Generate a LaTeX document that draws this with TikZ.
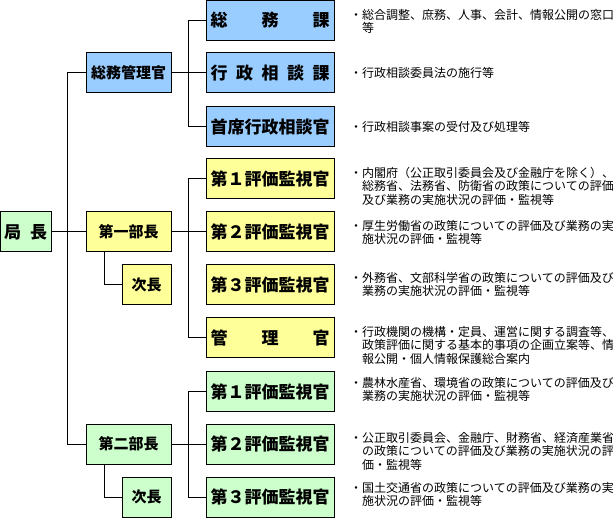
\documentclass[tikz,border=0pt]{standalone}
\usepackage{fontspec}
\usepackage{xcolor}
\newfontfamily\gothic{Noto Sans CJK JP}
\definecolor{aoiro}{HTML}{99CCFF}
\definecolor{kiiro}{HTML}{FFFF99}
\definecolor{midori}{HTML}{CCFFCC}
\newcommand{\sagari}{\hspace*{12pt}}
\newcommand{\kintou}[2][119pt]{\makebox[#1][s]{#2}}

\begin{document}
\begin{tikzpicture}[x=1pt, y=-1pt,
  waku/.style={draw=black, line width=1pt, inner sep=0pt, minimum height=40pt},
  migi/.style={waku, minimum width=128pt, font=\gothic\bfseries\fontsize{17}{20}\selectfont},
  hidari/.style={waku, minimum width=85pt, font=\gothic\bfseries\fontsize{15}{18}\selectfont},
  jicho/.style={waku, minimum width=49pt, font=\gothic\bfseries\fontsize{15}{18}\selectfont},
  sen/.style={black, line width=1pt},
  setsumei/.style={anchor=north west, inner sep=0pt, align=left,
                   font=\gothic\fontsize{12}{13.5}\selectfont}]
\useasboundingbox (0,0) rectangle (613,518);
\clip (0,0) rectangle (613,518);
% 局長
\node[waku, fill=midori, minimum width=50.5pt, font=\gothic\bfseries\fontsize{17}{20}\selectfont] (kyoku) at (25.75,232) {\kintou[43pt]{局\hfill 長}};
% 総務管理官の系統
\node[hidari, fill=aoiro] (somukanri) at (128.5,73) {総務管理官};
\node[migi, fill=aoiro] (somuka) at (270,20.5) {\kintou{総\hfill 務\hfill 課}};
\node[migi, fill=aoiro] (gyoseika) at (270,73) {\kintou{行\hfill 政\hfill 相\hfill 談\hfill 課}};
\node[migi, fill=aoiro] (shuseki) at (270,127) {首席行政相談官};
% 第一部長の系統
\node[hidari, fill=kiiro] (bucho1) at (128.5,232) {第一部長};
\node[jicho, fill=kiiro] (jicho1) at (146.5,285) {次長};
\node[migi, fill=kiiro] (hyoka11) at (270,179) {第１評価監視官};
\node[migi, fill=kiiro] (hyoka12) at (270,232) {第２評価監視官};
\node[migi, fill=kiiro] (hyoka13) at (270,285) {第３評価監視官};
\node[migi, fill=kiiro] (kanrikan) at (270,338) {\kintou{管\hfill 理\hfill 官}};
% 第二部長の系統
\node[hidari, fill=midori] (bucho2) at (128.5,444) {第二部長};
\node[jicho, fill=midori] (jicho2) at (146.5,497) {次長};
\node[migi, fill=midori] (hyoka21) at (270,391.5) {第１評価監視官};
\node[migi, fill=midori] (hyoka22) at (270,444) {第２評価監視官};
\node[migi, fill=midori] (hyoka23) at (270,497) {第３評価監視官};
% 結線
\draw[sen] (kyoku.east) -- (bucho1.west);
\draw[sen] (somukanri.west) -- ++(-18,0) |- (bucho2.west);
\draw[sen] (somukanri.east) -- (gyoseika.west);
\draw[sen] (somuka.west) -- ++(-17,0) |- (shuseki.west);
\draw[sen] (bucho1.east) -- (hyoka12.west);
\draw[sen] (hyoka11.west) -- ++(-17,0) |- (kanrikan.west);
\draw[sen] ([xshift=19pt]bucho1.south west) |- (jicho1.west);
\draw[sen] (bucho2.east) -- (hyoka22.west);
\draw[sen] (hyoka21.west) -- ++(-17,0) |- (hyoka23.west);
\draw[sen] ([xshift=19pt]bucho2.south west) |- (jicho2.west);
% 所掌事務
\node[setsumei] (d-somuka) at (350,9) {・総合調整、庶務、人事、会計、情報公開の窓口\\\sagari 等};
\node[setsumei] (d-gyoseika) at (350,67) {・行政相談委員法の施行等};
\node[setsumei] (d-shuseki) at (350,121) {・行政相談事案の受付及び処理等};
\node[setsumei] (d-hyoka11) at (350,167) {・内閣府（公正取引委員会及び金融庁を除く）、\\\sagari 総務省、法務省、防衛省の政策についての評価\\\sagari 及び業務の実施状況の評価・監視等};
\node[setsumei] (d-hyoka12) at (350,220) {・厚生労働省の政策についての評価及び業務の実\\\sagari 施状況の評価・監視等};
\node[setsumei] (d-hyoka13) at (350,272) {・外務省、文部科学省の政策についての評価及び\\\sagari 業務の実施状況の評価・監視等};
\node[setsumei] (d-kanrikan) at (350,326) {・行政機関の機構・定員、運営に関する調査等、\\\sagari 政策評価に関する基本的事項の企画立案等、情\\\sagari 報公開・個人情報保護総合案内};
\node[setsumei] (d-hyoka21) at (350,377) {・農林水産省、環境省の政策についての評価及び\\\sagari 業務の実施状況の評価・監視等};
\node[setsumei] (d-hyoka22) at (350,432) {・公正取引委員会、金融庁、財務省、経済産業省\\\sagari の政策についての評価及び業務の実施状況の評\\\sagari 価・監視等};
\node[setsumei] (d-hyoka23) at (350,482) {・国土交通省の政策についての評価及び業務の実\\\sagari 施状況の評価・監視等};
\end{tikzpicture}
\end{document}
